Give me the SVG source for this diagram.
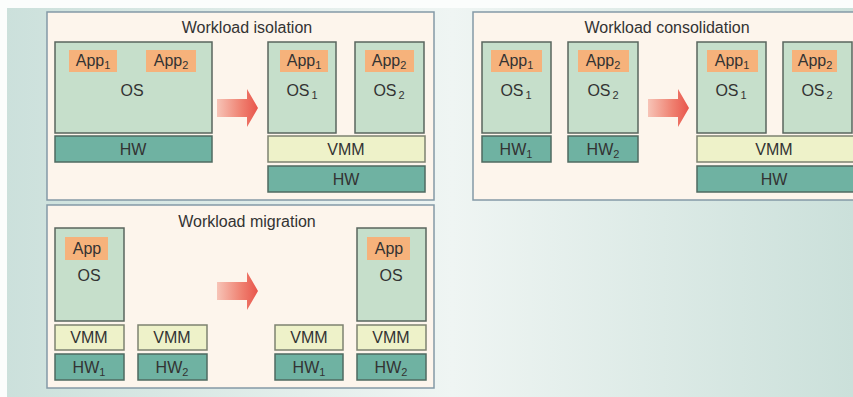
<svg xmlns="http://www.w3.org/2000/svg" width="853" height="397" viewBox="0 0 853 397">
  <defs>
    <linearGradient id="bg" x1="0" y1="0" x2="853" y2="0" gradientUnits="userSpaceOnUse">
      <stop offset="0" stop-color="#cbe0db"/>
      <stop offset="0.53" stop-color="#eff5f3"/>
      <stop offset="1" stop-color="#cbe0da"/>
    </linearGradient>
    <linearGradient id="arrowFill" x1="0" y1="0" x2="1" y2="0">
      <stop offset="0" stop-color="#f7c4b7"/>
      <stop offset="0.6" stop-color="#ef8070"/>
      <stop offset="1" stop-color="#e8554b"/>
    </linearGradient>
    <!-- block arrow pointing right, 41 x 38 -->
    <polygon id="bigArrow" points="0,10 30,10 30,0 41,19 30,38 30,28 0,28" fill="url(#arrowFill)"/>
    <style>
      .panel { fill: #fdf5ec; stroke: #8499a6; stroke-width: 1.5; }
      .os { fill: #c6dfcb; stroke: #59665e; stroke-width: 1.5; }
      .hw { fill: #6fb2a2; stroke: #4f6a60; stroke-width: 1.5; }
      .vmm { fill: #eef2c9; stroke: #7d8270; stroke-width: 1.5; }
      .app { fill: #f6b27b; }
      text { font-family: "Liberation Sans", Arial, sans-serif; fill: #333333; text-anchor: middle; }
      .title { font-size: 16px; }
      .lbl { font-size: 16px; }
      .sub { font-size: 11px; }
    </style>
  </defs>

  <!-- backdrop -->
  <rect x="0" y="0" width="853" height="397" fill="#fbfdfc"/>
  <rect x="7" y="8" width="846" height="389" fill="url(#bg)"/>

  <!-- Workload isolation -->
  <g id="isolation">
    <rect class="panel" x="47" y="12" width="387" height="188"/>
    <text class="title" x="247" y="33">Workload isolation</text>
    <g id="iso-os">
      <rect class="os" x="55" y="42" width="157" height="91"/>
      <rect class="app" x="69" y="50" width="48" height="22"/>
      <text class="lbl" x="93" y="66">App<tspan class="sub" dy="3">1</tspan></text>
      <rect class="app" x="146" y="50" width="50" height="22"/>
      <text class="lbl" x="171" y="66">App<tspan class="sub" dy="3">2</tspan></text>
      <text class="lbl" x="132" y="96">OS</text>
    </g>
    <g id="iso-hw">
      <rect class="hw" x="55" y="136" width="157" height="26"/>
      <text class="lbl" x="133" y="155">HW</text>
    </g>
    <use href="#bigArrow" x="217" y="89"/>
    <g id="iso-vm1">
      <rect class="os" x="268" y="42" width="68" height="91"/>
      <rect class="app" x="280" y="50" width="48" height="22"/>
      <text class="lbl" x="304" y="66">App<tspan class="sub" dy="3">1</tspan></text>
      <text class="lbl" x="302" y="96">OS<tspan class="sub" dx="2" dy="3">1</tspan></text>
    </g>
    <g id="iso-vm2">
      <rect class="os" x="355" y="42" width="69" height="91"/>
      <rect class="app" x="365" y="50" width="49" height="22"/>
      <text class="lbl" x="389" y="66">App<tspan class="sub" dy="3">2</tspan></text>
      <text class="lbl" x="389" y="96">OS<tspan class="sub" dx="2" dy="3">2</tspan></text>
    </g>
    <g id="iso-vmm">
      <rect class="vmm" x="268" y="136" width="157" height="26"/>
      <text class="lbl" x="346" y="155">VMM</text>
    </g>
    <g id="iso-hw2">
      <rect class="hw" x="268" y="166" width="157" height="26"/>
      <text class="lbl" x="346" y="185">HW</text>
    </g>
  </g>

  <!-- Workload consolidation -->
  <g id="consolidation">
    <rect class="panel" x="473" y="12" width="400" height="188"/>
    <text class="title" x="667" y="33">Workload consolidation</text>
    <g id="con-os1">
      <rect class="os" x="482" y="42" width="69" height="91"/>
      <rect class="app" x="491" y="50" width="51" height="22"/>
      <text class="lbl" x="516" y="66">App<tspan class="sub" dy="3">1</tspan></text>
      <text class="lbl" x="516" y="96">OS<tspan class="sub" dx="2" dy="3">1</tspan></text>
    </g>
    <g id="con-hw1">
      <rect class="hw" x="482" y="136" width="69" height="26"/>
      <text class="lbl" x="516" y="155">HW<tspan class="sub" dy="3">1</tspan></text>
    </g>
    <g id="con-os2">
      <rect class="os" x="568" y="42" width="70" height="91"/>
      <rect class="app" x="578" y="50" width="51" height="22"/>
      <text class="lbl" x="603" y="66">App<tspan class="sub" dy="3">2</tspan></text>
      <text class="lbl" x="603" y="96">OS<tspan class="sub" dx="2" dy="3">2</tspan></text>
    </g>
    <g id="con-hw2">
      <rect class="hw" x="568" y="136" width="70" height="26"/>
      <text class="lbl" x="603" y="155">HW<tspan class="sub" dy="3">2</tspan></text>
    </g>
    <use href="#bigArrow" x="648" y="89"/>
    <g id="con-vm1">
      <rect class="os" x="697" y="42" width="69" height="91"/>
      <rect class="app" x="707" y="50" width="51" height="22"/>
      <text class="lbl" x="732" y="66">App<tspan class="sub" dy="3">1</tspan></text>
      <text class="lbl" x="731" y="96">OS<tspan class="sub" dx="2" dy="3">1</tspan></text>
    </g>
    <g id="con-vm2">
      <rect class="os" x="783" y="42" width="69" height="91"/>
      <rect class="app" x="792" y="50" width="45" height="22"/>
      <text class="lbl" x="815" y="66">App<tspan class="sub" dy="3">2</tspan></text>
      <text class="lbl" x="817" y="96">OS<tspan class="sub" dx="2" dy="3">2</tspan></text>
    </g>
    <g id="con-vmm">
      <rect class="vmm" x="697" y="136" width="170" height="26"/>
      <text class="lbl" x="774" y="155">VMM</text>
    </g>
    <g id="con-hw">
      <rect class="hw" x="697" y="166" width="170" height="26"/>
      <text class="lbl" x="774" y="185">HW</text>
    </g>
  </g>

  <!-- Workload migration -->
  <g id="migration">
    <rect class="panel" x="47" y="205" width="387" height="183"/>
    <text class="title" x="247" y="227">Workload migration</text>
    <g id="mig-vm-src">
      <rect class="os" x="55" y="228" width="69" height="93"/>
      <rect class="app" x="65" y="237" width="43" height="23"/>
      <text class="lbl" x="87" y="254">App</text>
      <text class="lbl" x="89" y="281">OS</text>
    </g>
    <g id="mig-vmm1">
      <rect class="vmm" x="55" y="325" width="69" height="25"/>
      <text class="lbl" x="89" y="343">VMM</text>
    </g>
    <g id="mig-hw1">
      <rect class="hw" x="55" y="354" width="69" height="26"/>
      <text class="lbl" x="89" y="373">HW<tspan class="sub" dy="3">1</tspan></text>
    </g>
    <g id="mig-vmm2">
      <rect class="vmm" x="138" y="325" width="69" height="25"/>
      <text class="lbl" x="172" y="343">VMM</text>
    </g>
    <g id="mig-hw2">
      <rect class="hw" x="138" y="354" width="69" height="26"/>
      <text class="lbl" x="172" y="373">HW<tspan class="sub" dy="3">2</tspan></text>
    </g>
    <use href="#bigArrow" x="217" y="272"/>
    <g id="mig-vmm3">
      <rect class="vmm" x="275" y="325" width="68" height="25"/>
      <text class="lbl" x="309" y="343">VMM</text>
    </g>
    <g id="mig-hw3">
      <rect class="hw" x="275" y="354" width="68" height="26"/>
      <text class="lbl" x="309" y="373">HW<tspan class="sub" dy="3">1</tspan></text>
    </g>
    <g id="mig-vm-dst">
      <rect class="os" x="357" y="228" width="69" height="93"/>
      <rect class="app" x="367" y="237" width="43" height="23"/>
      <text class="lbl" x="389" y="254">App</text>
      <text class="lbl" x="391" y="281">OS</text>
    </g>
    <g id="mig-vmm4">
      <rect class="vmm" x="357" y="325" width="69" height="25"/>
      <text class="lbl" x="391" y="343">VMM</text>
    </g>
    <g id="mig-hw4">
      <rect class="hw" x="357" y="354" width="69" height="26"/>
      <text class="lbl" x="391" y="373">HW<tspan class="sub" dy="3">2</tspan></text>
    </g>
  </g>

  <!-- connectors: none beyond the block arrows above -->
  <g id="connectors"/>
</svg>
